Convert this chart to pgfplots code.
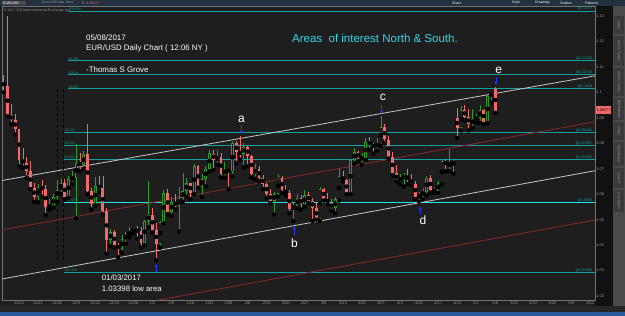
\documentclass[border=0pt]{standalone}
\usepackage{fontspec}
\setmainfont{Liberation Sans}
\usepackage{pgfplots}
\usepackage{pgfplotstable}
\pgfplotsset{compat=1.18}
\usetikzlibrary{arrows.meta}
\definecolor{bg}{HTML}{1E1E1E}
\definecolor{axbg}{HTML}{111111}
\definecolor{side}{HTML}{4A4A4A}
\definecolor{tab}{HTML}{3A3A3A}
\definecolor{toolbar}{HTML}{22303F}
\definecolor{taskbar}{HTML}{2A5B9B}
\definecolor{redc}{HTML}{F06A6A}
\definecolor{greenc}{HTML}{2E9A2E}
\definecolor{fibc}{HTML}{12A0A0}
\definecolor{fibb}{HTML}{22E6E6}
\definecolor{chw}{HTML}{C8C8C8}
\definecolor{chr}{HTML}{8A2A2A}
\definecolor{arrb}{HTML}{1A3CFF}
\definecolor{titc}{HTML}{33D6E6}
\definecolor{labg}{HTML}{9A9A9A}

\pgfplotstableread{
i o h l c
-4 1.1040 1.1070 1.1000 1.1025
-3 1.1025 1.1300 1.0906 1.0910
-2 1.0910 1.0955 1.0875 1.0893
-1 1.0893 1.0915 1.0835 1.0855
0 1.0855 1.0858 1.0709 1.0735
1 1.0735 1.0780 1.0705 1.0722
2 1.0722 1.0745 1.0665 1.0690
3 1.0690 1.0730 1.0620 1.0625
4 1.0625 1.0645 1.0570 1.0588
6 1.0627 1.0655 1.0590 1.0620
7 1.0620 1.0635 1.0518 1.0550
12 1.0645 1.0660 1.0580 1.0590
16 1.0722 1.0760 1.0690 1.0715
18 1.0756 1.0874 1.0600 1.0614
19 1.0614 1.0625 1.0540 1.0560
21 1.0633 1.0670 1.0610 1.0625
22 1.0625 1.0670 1.0520 1.0535
23 1.0535 1.0545 1.0366 1.0420
25 1.0450 1.0460 1.0390 1.0400
26 1.0400 1.0410 1.0352 1.0385
31 1.0457 1.0475 1.0425 1.0455
32 1.0455 1.0470 1.0390 1.0410
35 1.0520 1.0545 1.0450 1.0459
36 1.0459 1.0485 1.0340 1.0405
39 1.0605 1.0620 1.0520 1.0530
41 1.0570 1.0600 1.0540 1.0555
45 1.0643 1.0645 1.0580 1.0605
47 1.0710 1.0715 1.0625 1.0630
51 1.0760 1.0775 1.0695 1.0735
53 1.0745 1.0760 1.0665 1.0680
55 1.0695 1.0700 1.0620 1.0690
57 1.0800 1.0810 1.0720 1.0765
58 1.0765 1.0829 1.0735 1.0760
60 1.0785 1.0790 1.0710 1.0750
61 1.0750 1.0755 1.0665 1.0680
63 1.0700 1.0710 1.0650 1.0665
64 1.0665 1.0675 1.0620 1.0640
65 1.0640 1.0645 1.0585 1.0600
66 1.0600 1.0620 1.0565 1.0575
69 1.0665 1.0670 1.0605 1.0615
70 1.0615 1.0635 1.0595 1.0605
71 1.0605 1.0615 1.0525 1.0540
74 1.0585 1.0595 1.0540 1.0560
76 1.0595 1.0610 1.0565 1.0575
77 1.0575 1.0585 1.0495 1.0545
78 1.0545 1.0565 1.0500 1.0505
80 1.0620 1.0625 1.0575 1.0582
81 1.0582 1.0605 1.0560 1.0565
82 1.0565 1.0580 1.0535 1.0545
85 1.0670 1.0690 1.0650 1.0655
86 1.0655 1.0660 1.0600 1.0605
89 1.0765 1.0770 1.0730 1.0740
92 1.0805 1.0825 1.0775 1.0795
93 1.0795 1.0800 1.0760 1.0785
96 1.0865 1.0875 1.0800 1.0815
97 1.0815 1.0830 1.0740 1.0745
98 1.0745 1.0765 1.0675 1.0685
99 1.0685 1.0715 1.0650 1.0652
102 1.0670 1.0700 1.0640 1.0660
103 1.0660 1.0680 1.0635 1.0642
104 1.0642 1.0650 1.0580 1.0590
108 1.0665 1.0675 1.0605 1.0615
109 1.0615 1.0625 1.0605 1.0612
112 1.0730 1.0740 1.0690 1.0715
115 1.0900 1.0937 1.0820 1.0860
117 1.0930 1.0950 1.0890 1.0905
118 1.0905 1.0935 1.0850 1.0875
122 1.0930 1.0935 1.0875 1.0885
125 1.1013 1.1023 1.0920 1.0927
}\dn

\pgfplotstableread{
i o h l c
5 1.0588 1.0640 1.0568 1.0627
8 1.0550 1.0580 1.0540 1.0554
9 1.0554 1.0600 1.0548 1.0590
10 1.0590 1.0655 1.0570 1.0615
11 1.0615 1.0660 1.0600 1.0645
13 1.0590 1.0670 1.0585 1.0660
14 1.0660 1.0690 1.0640 1.0665
15 1.0665 1.0796 1.0505 1.0722
17 1.0715 1.0770 1.0700 1.0756
20 1.0560 1.0667 1.0555 1.0633
24 1.0420 1.0465 1.0395 1.0450
27 1.0385 1.0440 1.0370 1.0425
28 1.0425 1.0450 1.0405 1.0438
29 1.0438 1.0470 1.0430 1.0454
30 1.0454 1.0465 1.0445 1.0457
33 1.0410 1.0500 1.0400 1.0495
34 1.0495 1.0653 1.0470 1.0520
37 1.0405 1.0495 1.0390 1.0490
38 1.0490 1.0615 1.0485 1.0605
40 1.0530 1.0590 1.0515 1.0570
42 1.0555 1.0630 1.0453 1.0585
43 1.0585 1.0685 1.0570 1.0612
44 1.0612 1.0665 1.0590 1.0643
46 1.0605 1.0718 1.0600 1.0710
48 1.0630 1.0680 1.0590 1.0660
49 1.0660 1.0710 1.0630 1.0700
50 1.0700 1.0775 1.0690 1.0760
52 1.0735 1.0775 1.0715 1.0745
54 1.0680 1.0725 1.0665 1.0695
56 1.0690 1.0810 1.0670 1.0800
59 1.0760 1.0800 1.0705 1.0785
62 1.0680 1.0720 1.0660 1.0700
67 1.0575 1.0610 1.0520 1.0600
68 1.0600 1.0680 1.0590 1.0665
72 1.0540 1.0570 1.0494 1.0555
73 1.0555 1.0600 1.0545 1.0585
75 1.0560 1.0615 1.0550 1.0595
79 1.0505 1.0630 1.0495 1.0620
83 1.0545 1.0590 1.0525 1.0580
84 1.0580 1.0700 1.0575 1.0670
87 1.0605 1.0740 1.0600 1.0735
88 1.0735 1.0780 1.0720 1.0765
90 1.0740 1.0760 1.0715 1.0742
91 1.0742 1.0820 1.0735 1.0805
94 1.0785 1.0820 1.0770 1.0800
95 1.0800 1.0906 1.0790 1.0865
100 1.0652 1.0680 1.0640 1.0665
101 1.0665 1.0685 1.0630 1.0670
105 1.0590 1.0610 1.0570 1.0595
106 1.0595 1.0625 1.0580 1.0610
107 1.0610 1.0672 1.0595 1.0665
110 1.0612 1.0650 1.0605 1.0645
111 1.0645 1.0735 1.0640 1.0730
113 1.0715 1.0777 1.0690 1.0718
114 1.0718 1.0740 1.0680 1.0725
116 1.0860 1.0945 1.0850 1.0930
119 1.0875 1.0935 1.0860 1.0895
120 1.0895 1.0915 1.0880 1.0900
121 1.0900 1.0950 1.0880 1.0930
123 1.0885 1.0990 1.0880 1.0985
124 1.0985 1.1000 1.0960 1.0998
}\up

\newcommand{\tinyf}{\fontsize{4}{4.5}\selectfont}
\newcommand{\fibf}{\fontsize{3.6}{4}\selectfont}

\begin{document}
\begin{tikzpicture}[x=1pt,y=1pt]
% backgrounds
\fill[bg] (0,0) rectangle (625,316);
\fill[axbg] (595,10) rectangle (613,310);
\fill[side] (613,10) rectangle (625,310);
\foreach \ya/\yb/\t in {300/282/Trade, 280/250/Active Trader, 248/220/Active Trader, 218/196/Big Buttons, 194/176/Order, 174/150/Dashboard, 148/128/Level II, 126/104/Live News}{
  \fill[tab] (614,\yb) rectangle (624,\ya);
  \node[rotate=-90, font=\fontsize{3.5}{4}\selectfont, text=labg, inner sep=0pt] at (619,{(\ya+\yb)/2}) {\t};
}
\fill[toolbar] (0,310) rectangle (625,316);
\fill[black!70] (2,310.8) rectangle (26,315.2);
\node[anchor=west, font=\fontsize{3.5}{4}\selectfont, text=white, inner sep=0pt] at (3,313) {EUR/USD};
\node[anchor=west, font=\fontsize{3.5}{4}\selectfont, text=labg, inner sep=0pt] at (42,313) {Euro/USDollar Spot};
\node[anchor=west, font=\fontsize{3.5}{4}\selectfont, text=redc, inner sep=0pt] at (82,313) {B: 1.09277};
\foreach \x/\t in {452/Share, 512/Style, 535/Drawings, 560/Studies, 585/Patterns}{
  \node[anchor=west, font=\fontsize{3.5}{4}\selectfont, text=white!85, inner sep=0pt] at (\x,313) {\t};
}
\fill[black!85] (0,4) rectangle (625,10);
\fill[taskbar] (0,0) rectangle (625,4);
\node[anchor=west, font=\fontsize{3.5}{4}\selectfont, text=labg, inner sep=0pt] at (4,305.5) {\textcopyright\ 2017 ICE Intercontinental Exchange Inc.};

\begin{axis}[at={(2pt,16pt)}, anchor=south west, scale only axis,
  width=593pt, height=294pt,
  xmin=-4.46, xmax=151.18, ymin=1.01843, ymax=1.13395,
  axis line style={draw=black!55, line width=0.6pt},
  tick style={draw=none},
  scaled y ticks=false,
  ytick={1.02,1.03,1.04,1.05,1.06,1.07,1.08,1.09,1.1,1.11,1.12,1.13},
  yticklabel pos=right,
  yticklabel style={font=\tinyf, text=labg, anchor=west, inner sep=0pt, xshift=1pt,
    /pgf/number format/.cd, fixed, precision=2, assume math mode=true},
  xtick={0,5,...,150},
  xticklabels={11/14,11/21,11/28,12/5,12/12,12/19,12/26,1/2,1/9,1/16,1/23,1/30,2/6,2/13,2/20,2/27,3/6,3/13,3/20,3/27,4/3,4/10,4/17,4/24,5/1,5/8,5/15,5/22,5/29,6/5,6/12},
  xticklabel style={font=\tinyf, text=labg, inner sep=0pt, yshift=-1.5pt},
]
% fibonacci levels
\addplot[fibc, line width=1pt] coordinates {(12.86,1.13198) (152,1.13198)};
\addplot[fibc, line width=1pt] coordinates {(12.86,1.11246) (152,1.11246)};
\addplot[fibc, line width=1pt] coordinates {(12.86,1.10696) (152,1.10696)};
\addplot[fibc, line width=1pt] coordinates {(12.86,1.10134) (152,1.10134)};
\addplot[fibc, line width=1pt] coordinates {(11.81,1.08432) (152,1.08432)};
\addplot[fibc, line width=1pt] coordinates {(11.81,1.07921) (152,1.07921)};
\addplot[fibc, line width=1pt] coordinates {(11.81,1.07371) (152,1.07371)};
\addplot[fibb, line width=1.2pt] coordinates {(11.81,1.05682) (152,1.05682)};
\addplot[fibc, line width=1pt] coordinates {(11.81,1.02931) (152,1.02931)};
% channel lines
\addplot[chw, line width=0.8pt] coordinates {(-4.46,1.06538) (151.18,1.10652)};
\addplot[chw, line width=0.8pt] coordinates {(-4.46,1.02668) (151.18,1.06923)};
\addplot[chr, line width=0.8pt] coordinates {(-4.46,1.04593) (151.18,1.08849)};
\addplot[chr, line width=0.8pt] coordinates {(35.70,1.01815) (151.18,1.04986)};
% dashed verticals
\addplot[black, dashed, line width=0.7pt] coordinates {(10.1,1.10134) (10.1,1.03415)};
\addplot[black, dashed, line width=0.7pt] coordinates {(11.55,1.10134) (11.55,1.03415)};
% wicks
\addplot[only marks, mark=none, error bars/.cd, y dir=plus, y explicit, error mark=none,
  error bar style={line width=0.6pt, draw=redc}]
  table[x=i, y=l, y error expr=\thisrow{h}-\thisrow{l}] {\dn};
\addplot[only marks, mark=none, error bars/.cd, y dir=plus, y explicit, error mark=none,
  error bar style={line width=0.6pt, draw=greenc}]
  table[x=i, y=l, y error expr=\thisrow{h}-\thisrow{l}] {\up};
% bodies
\addplot[only marks, mark=none, error bars/.cd, y dir=both, y explicit, error mark=none,
  error bar style={line width=2.7pt, draw=redc}]
  table[x=i, y expr={(\thisrow{o}+\thisrow{c})/2}, y error expr={max((\thisrow{o}-\thisrow{c})/2,0.00015)}] {\dn};
\addplot[only marks, mark=none, error bars/.cd, y dir=both, y explicit, error mark=none,
  error bar style={line width=2.7pt, draw=greenc}]
  table[x=i, y expr={(\thisrow{o}+\thisrow{c})/2}, y error expr={max((\thisrow{c}-\thisrow{o})/2,0.00015)}] {\up};
\addplot[only marks, mark=none, error bars/.cd, y dir=both, y explicit, error mark=none,
  error bar style={line width=1.2pt, draw=bg}]
  table[x=i, y expr={(\thisrow{o}+\thisrow{c})/2}, y error expr={max((\thisrow{c}-\thisrow{o})/2-0.0003,0)}] {\up};
% arrows
\addplot[arrb, line width=1pt, -{Latex[length=3pt,width=3.5pt]}] coordinates {(58.27,1.08700) (58.27,1.08365)};
\addplot[arrb, line width=1pt, -{Latex[length=3pt,width=3.5pt]}] coordinates {(72.2,1.04416) (72.2,1.04750)};
\addplot[arrb, line width=1pt, -{Latex[length=3pt,width=3.5pt]}] coordinates {(95.2,1.09486) (95.2,1.09151)};
\addplot[arrb, line width=1pt, -{Latex[length=3pt,width=3.5pt]}] coordinates {(105.3,1.05241) (105.3,1.05517)};
\addplot[arrb, line width=1pt, -{Latex[length=3pt,width=3.5pt]}] coordinates {(125.2,1.10586) (125.2,1.10291)};
\addplot[arrb, line width=1pt, -{Latex[length=3pt,width=3.5pt]}] coordinates {(36,1.02962) (36,1.03257)};
% point labels
\node[text=white, font=\fontsize{12}{12}\selectfont, inner sep=0pt] at (axis cs:58.4,1.08955) {a};
\node[text=white, font=\fontsize{12}{12}\selectfont, inner sep=0pt] at (axis cs:72.3,1.04083) {b};
\node[text=white, font=\fontsize{12}{12}\selectfont, inner sep=0pt] at (axis cs:95.5,1.09800) {c};
\node[text=white, font=\fontsize{12}{12}\selectfont, inner sep=0pt] at (axis cs:106,1.04986) {d};
\node[text=white, font=\fontsize{12}{12}\selectfont, inner sep=0pt] at (axis cs:125.9,1.10880) {e};
% fib labels
\foreach \yy/\t in {1.13198/100.0\%, 1.11246/61.8\%, 1.10696/50.0\%, 1.10134/38.2\%}{
  \edef\tmp{\noexpand\node[anchor=south west, font=\noexpand\fibf, text=fibc, inner sep=0.4pt] at (axis cs:12.9,\yy) {\t};}\tmp
}
\foreach \yy/\t in {1.08432/38.2\%, 1.07921/50.0\%, 1.07371/61.8\%, 1.05682/100.0\%, 1.02931/161.8\%}{
  \edef\tmp{\noexpand\node[anchor=south west, font=\noexpand\fibf, text=fibc, inner sep=0.4pt] at (axis cs:11.85,\yy) {\t};}\tmp
}
\foreach \yy/\t in {1.13198/@1.1317, 1.11246/@1.11226, 1.10696/@1.10729, 1.10134/@1.1018, 1.08432/@1.08466, 1.07921/@1.07961, 1.07371/@1.07403, 1.05682/@1.0566, 1.02931/@1.02996}{
  \edef\tmp{\noexpand\node[anchor=south east, font=\noexpand\fibf, text=fibc, inner sep=0.4pt] at (axis cs:150.6,\yy) {\t};}\tmp
}
\end{axis}
% current price box
\fill[redc] (596,202) rectangle (611,210);
\node[font=\fontsize{3.8}{4}\selectfont, text=black, inner sep=0pt] at (603.5,206) {1.09277};
% texts
\node[anchor=west, text=white, font=\fontsize{7.9}{9}\selectfont, inner sep=0pt] at (86,278.3) {05/08/2017};
\node[anchor=west, text=white, font=\fontsize{7.9}{9}\selectfont, inner sep=0pt] at (86,268) {EUR/USD Daily Chart ( 12:06 NY )};
\node[anchor=west, text=white, font=\fontsize{7.9}{9}\selectfont, inner sep=0pt] at (86,246.3) {-Thomas S Grove};
\node[anchor=west, text=titc, font=\fontsize{11.5}{13}\selectfont, inner sep=0pt] at (292,278) {Areas\ \ of interest North \& South.};
\node[anchor=west, text=white, font=\fontsize{7.8}{9}\selectfont, inner sep=0pt] at (101.7,38.7) {01/03/2017};
\node[anchor=west, text=white, font=\fontsize{7.8}{9}\selectfont, inner sep=0pt] at (101.7,27.7) {1.03398 low area};
\end{tikzpicture}
\end{document}
